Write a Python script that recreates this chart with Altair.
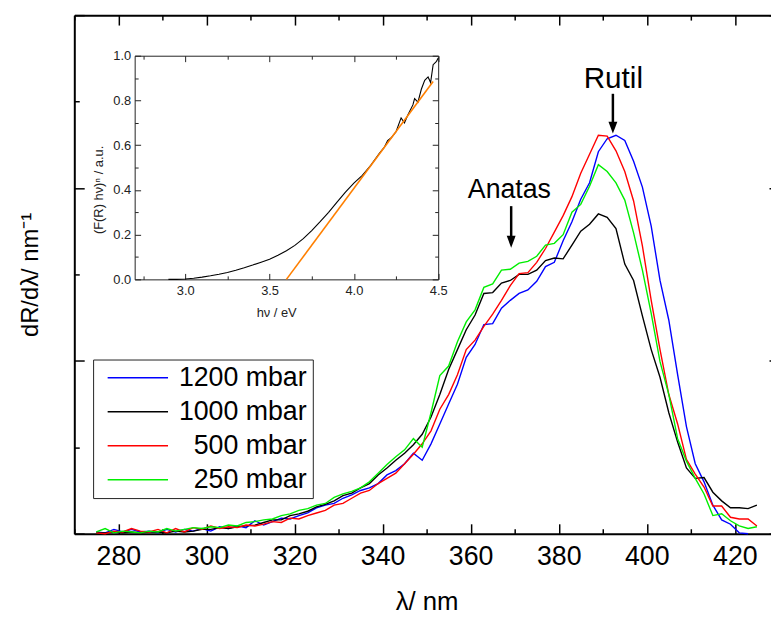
import altair as alt
import pandas as pd

# ---------------- data ----------------
wavelength = list(range(275, 426, 2))
series_names = ["1200 mbar", "1000 mbar", "500 mbar", "250 mbar"]
series_colors = ["#0000ff", "#000000", "#ff0000", "#00ee00"]

r1200 = [0.02, 0.01, 0.05, 0.02, 0.05, 0.02, 0.03, 0.01, 0.05, 0.02,
         0.05, 0.03, 0.06, 0.03, 0.08, 0.06, 0.09, 0.07, 0.15, 0.10,
         0.14, 0.18, 0.17, 0.21, 0.24, 0.30, 0.33, 0.35, 0.41, 0.45,
         0.50, 0.53, 0.58, 0.68, 0.73, 0.81, 0.93, 0.85, 1.04, 1.27,
         1.50, 1.73, 2.04, 2.19, 2.42, 2.43, 2.61, 2.70, 2.78, 2.82,
         2.92, 3.09, 3.14, 3.39, 3.61, 3.87, 4.06, 4.42, 4.57, 4.61,
         4.55, 4.31, 4.01, 3.56, 2.93, 2.47, 1.84, 1.24, 0.81, 0.60,
         0.33, 0.16, 0.11, 0.01, 0.00, None]
r1000 = [0.01, 0.01, 0.02, 0.01, 0.02, 0.01, 0.02, 0.02, 0.01, 0.03,
         0.02, 0.03, 0.05, 0.05, 0.07, 0.06, 0.08, 0.09, 0.10, 0.13,
         0.16, 0.16, 0.21, 0.23, 0.26, 0.31, 0.34, 0.38, 0.44, 0.47,
         0.53, 0.58, 0.68, 0.76, 0.85, 0.93, 1.03, 1.15, 1.35, 1.61,
         1.90, 2.13, 2.36, 2.53, 2.78, 2.79, 2.90, 2.93, 3.00, 3.00,
         3.05, 3.16, 3.19, 3.18, 3.34, 3.50, 3.58, 3.70, 3.66, 3.53,
         3.12, 2.93, 2.52, 2.13, 1.81, 1.40, 1.06, 0.76, 0.64, 0.65,
         0.48, 0.38, 0.30, 0.30, 0.29, 0.33]
r500 = [0.01, 0.00, 0.03, 0.02, 0.06, 0.03, 0.02, 0.05, 0.01, 0.06,
        0.02, 0.07, 0.05, 0.09, 0.06, 0.08, 0.07, 0.10, 0.09, 0.11,
        0.14, 0.13, 0.18, 0.17, 0.21, 0.24, 0.27, 0.33, 0.35, 0.41,
        0.47, 0.50, 0.58, 0.64, 0.70, 0.81, 0.92, 1.04, 1.19, 1.44,
        1.61, 1.84, 2.13, 2.24, 2.40, 2.54, 2.70, 2.87, 3.01, 3.02,
        3.14, 3.30, 3.49, 3.68, 3.90, 4.17, 4.39, 4.61, 4.60, 4.43,
        4.19, 3.85, 3.33, 2.70, 2.13, 1.61, 1.27, 0.86, 0.69, 0.54,
        0.32, 0.32, 0.19, 0.17, 0.17, 0.09]
r250 = [0.02, 0.06, 0.01, 0.03, 0.02, 0.01, 0.03, 0.02, 0.06, 0.03,
        0.05, 0.07, 0.06, 0.08, 0.07, 0.10, 0.09, 0.13, 0.14, 0.16,
        0.17, 0.21, 0.23, 0.27, 0.29, 0.33, 0.35, 0.42, 0.46, 0.49,
        0.53, 0.60, 0.70, 0.80, 0.89, 0.97, 1.10, 1.00, 1.40, 1.83,
        1.94, 2.22, 2.45, 2.59, 2.85, 2.89, 3.05, 3.06, 3.13, 3.15,
        3.21, 3.34, 3.36, 3.46, 3.72, 3.81, 4.02, 4.27, 4.19, 4.06,
        3.86, 3.48, 3.05, 2.55, 1.99, 1.61, 1.10, 0.84, 0.64, 0.46,
        0.21, 0.23, 0.15, 0.09, 0.06, 0.08]

ann_labels = ["Anatas", "Rutil"]
ann_wl = [368.8, 392.4]
ann_val = [3.88, 5.16]
arrow_wl = [369.2, 392.3]
arrow_top = [3.79, 5.09]
arrow_end = [3.40, 4.72]
arrow_tip = [3.31, 4.63]

inset_ev = [2.90, 2.95, 3.00, 3.05, 3.10, 3.15, 3.20, 3.25, 3.30, 3.35,
            3.40, 3.45, 3.50, 3.55, 3.60, 3.65, 3.70, 3.75, 3.80, 3.85,
            3.90, 3.95, 4.00, 4.05, 4.08, 4.10, 4.15, 4.18, 4.20, 4.22,
            4.25, 4.28, 4.30, 4.32, 4.35, 4.36, 4.38, 4.40, 4.42, 4.44,
            4.455, 4.47, 4.49, 4.50]
inset_val = [0.0, 0.0, 0.002, 0.005, 0.010, 0.016, 0.023, 0.031, 0.041, 0.052,
             0.064, 0.077, 0.090, 0.108, 0.128, 0.152, 0.182, 0.218, 0.258, 0.300,
             0.345, 0.390, 0.430, 0.465, 0.492, 0.510, 0.562, 0.590, 0.620, 0.632,
             0.660, 0.722, 0.700, 0.735, 0.780, 0.808, 0.792, 0.850, 0.890, 0.905,
             0.880, 0.960, 0.975, 0.990]
fit_ev = [3.60, 4.47]
fit_val = [0.0, 0.885]
inset_ytitle = ["(F(R) hν)ⁿ / a.u."]
inset_ytitle_ev = [2.51]
inset_ytitle_val = [0.40]

x_label_values = [280, 300, 320, 340, 360, 380, 400, 420]
x_tick_values = list(range(270, 431, 10))
y_tick_values = [0, 1, 2, 3, 4, 5, 6]
ix_label_values = [3.0, 3.5, 4.0, 4.5]
ix_tick_values = [2.75, 3.0, 3.25, 3.5, 3.75, 4.0, 4.25, 4.5]
iy_label_values = [0.0, 0.2, 0.4, 0.6, 0.8, 1.0]
iy_tick_values = [0.0, 0.1, 0.2, 0.3, 0.4, 0.5, 0.6, 0.7, 0.8, 0.9, 1.0]

# ---------------- tables ----------------
rows = []
for name, vals in zip(series_names, [r1200, r1000, r500, r250]):
    for w, v in zip(wavelength, vals):
        if v is not None:
            rows.append({"wl": w, "val": v, "series": name})
main_df = pd.DataFrame(rows)
ann_df = pd.DataFrame({"label": ann_labels, "wl": ann_wl, "val": ann_val})
arr_df = pd.DataFrame({"wl": arrow_wl, "top": arrow_top, "end": arrow_end, "tip": arrow_tip})
inset_df = pd.DataFrame({"ev": inset_ev, "val": inset_val})
fit_df = pd.DataFrame({"ev": fit_ev, "val": fit_val})
ititle_df = pd.DataFrame({"t": inset_ytitle, "ev": inset_ytitle_ev, "val": inset_ytitle_val})

# ---------------- layout ----------------
FONT = "Liberation Sans, Arial, sans-serif"
W, H, XR = 704, 524, 712
IX0, IX1, IY0, IY1 = 61, 367.7, 267, 41

xs = alt.Scale(domain=[270, 430], range=[0, XR], nice=False, zero=False)
ys = alt.Scale(domain=[0, 6], range=[H, 0], nice=False, zero=False)
ixs = alt.Scale(domain=[2.7, 4.5], range=[IX0, IX1], nice=False, zero=False)
iys = alt.Scale(domain=[0, 1], range=[IY0, IY1], nice=False, zero=False)

main_xtick = {"condition": {"test": "datum.value % 20 == 0", "value": 10}, "value": 5}
main_ytick = {"condition": {"test": "datum.value % 2 == 0", "value": 10}, "value": 5}
in_xtick = {"condition": {"test": "abs(datum.value*2 - round(datum.value*2)) < 0.01", "value": 6}, "value": 3.5}
in_ytick = {"condition": {"test": "abs(datum.value*5 - round(datum.value*5)) < 0.01", "value": 6}, "value": 3.5}

common = dict(grid=False, labelFlush=False, labelOverlap=False, minExtent=0, maxExtent=400)


def tick_axis(orient, offset, values, size, color="black", width=1.5, domain=True, dwidth=2):
    return alt.Axis(orient=orient, offset=offset, values=values, labels=False, ticks=True,
                    tickSize=size, tickColor=color, tickWidth=width, domain=domain,
                    domainColor=color, domainWidth=dwidth, title=None, **common)


legend = alt.Legend(orient="none", legendX=19, legendY=348, title=None,
                    symbolType="stroke", symbolSize=3721, symbolStrokeWidth=1.5,
                    labelFont=FONT, labelFontSize=27, labelColor="black", labelLimit=400,
                    labelAlign="right", labelOffset=139,
                    symbolOffset=8.2, padding=5.5, strokeColor="#222",
                    fillColor="white", clipHeight=26, rowPadding=7.3)

lines = alt.Chart(main_df).mark_line(strokeWidth=1.4).encode(
    x=alt.X("wl:Q", scale=xs, axis=alt.Axis(
        orient="bottom", values=x_label_values, format="d", ticks=False, tickSize=0,
        domain=True, domainWidth=2, domainColor="black", labelFont=FONT, labelFontSize=27,
        labelPadding=10, labelColor="black", title="λ/ nm", titleFont=FONT, titleFontSize=26,
        titleFontWeight="normal", titlePadding=20, titleColor="black", **common)),
    y=alt.Y("val:Q", scale=ys, axis=alt.Axis(
        orient="left", labels=False, ticks=False, domain=False, title="dR/dλ/ nm⁻¹",
        titleFont=FONT, titleFontSize=24, titleFontWeight="normal", titlePadding=32,
        titleColor="black", **common)),
    color=alt.Color("series:N", scale=alt.Scale(domain=series_names, range=series_colors),
                    legend=legend),
)

texts = alt.Chart(ann_df).mark_text(font=FONT, baseline="alphabetic",
                                    align="center", color="black").encode(
    x=alt.X("wl:Q", scale=xs, axis=tick_axis("top", -H, x_tick_values, main_xtick, domain=False)),
    y=alt.Y("val:Q", scale=ys, axis=tick_axis("right", -W, y_tick_values, main_ytick)),
    text="label:N",
    size=alt.condition(alt.datum.label == "Rutil", alt.value(30), alt.value(27)),
)

rules = alt.Chart(arr_df).mark_rule(strokeWidth=2.5, color="black").encode(
    x=alt.X("wl:Q", scale=xs, axis=tick_axis("bottom", -H, x_tick_values, main_xtick)),
    y=alt.Y("top:Q", scale=ys, axis=tick_axis("left", -XR, y_tick_values, main_ytick)),
    y2="end:Q",
)

heads = alt.Chart(arr_df).mark_point(shape="M-0.75,-2L0.75,-2L0,0Z", size=144, filled=True,
                                     color="black", opacity=1, strokeWidth=0).encode(
    x=alt.X("wl:Q", scale=xs, axis=None),
    y=alt.Y("tip:Q", scale=ys, axis=None),
)

main = alt.layer(lines, texts, rules, heads).resolve_axis(x="independent", y="independent")

IC = "#222222"
curve = alt.Chart(inset_df).mark_line(color="black", strokeWidth=1.1).encode(
    x=alt.X("ev:Q", scale=ixs, axis=alt.Axis(
        orient="bottom", offset=IY0 - H, values=ix_label_values, format=".1f", ticks=False,
        domain=False, labelFont=FONT, labelFontSize=13, labelPadding=5, labelColor=IC,
        title="hν / eV", titleFont=FONT, titleFontSize=13, titleFontWeight="normal",
        titleColor=IC, titleX=204, titleY=38, titleBaseline="alphabetic", **common)),
    y=alt.Y("val:Q", scale=iys, axis=alt.Axis(
        orient="left", offset=-IX0, values=iy_label_values, format=".1f", ticks=False,
        domain=False, labelFont=FONT, labelFontSize=13, labelPadding=4, labelColor=IC,
        title=None, **common)),
)

ititle = alt.Chart(ititle_df).mark_text(font=FONT, fontSize=13, angle=270, align="center",
                                        baseline="alphabetic", color=IC).encode(
    x=alt.X("ev:Q", scale=ixs, axis=None),
    y=alt.Y("val:Q", scale=iys, axis=None),
    text="t:N",
)

fit = alt.Chart(fit_df).mark_line(color="#ff7f00", strokeWidth=1.6).encode(
    x=alt.X("ev:Q", scale=ixs, axis=tick_axis("top", -IY0, ix_tick_values, in_xtick, IC, 1, True, 1)),
    y=alt.Y("val:Q", scale=iys, axis=tick_axis("right", IX0 - W, iy_tick_values, in_ytick, IC, 1, True, 1)),
)

frame = alt.Chart(fit_df).mark_line(opacity=0).encode(
    x=alt.X("ev:Q", scale=ixs, axis=tick_axis("bottom", IY1 - H, ix_tick_values, in_xtick, IC, 1, True, 1)),
    y=alt.Y("val:Q", scale=iys, axis=tick_axis("left", -IX1, iy_tick_values, in_ytick, IC, 1, True, 1)),
)

inset = alt.layer(curve, fit, frame, ititle).resolve_axis(x="independent", y="independent")

chart = alt.layer(main, inset).resolve_scale(x="independent", y="independent").properties(
    width=W, height=H,
    autosize=alt.AutoSizeParams(type="none"),
    padding={"left": 67, "top": 4, "right": 0, "bottom": 86},
).configure_view(stroke=None).configure(font="Liberation Sans")

chart.save("out.html", embed_options={"renderer": "svg", "actions": False})
